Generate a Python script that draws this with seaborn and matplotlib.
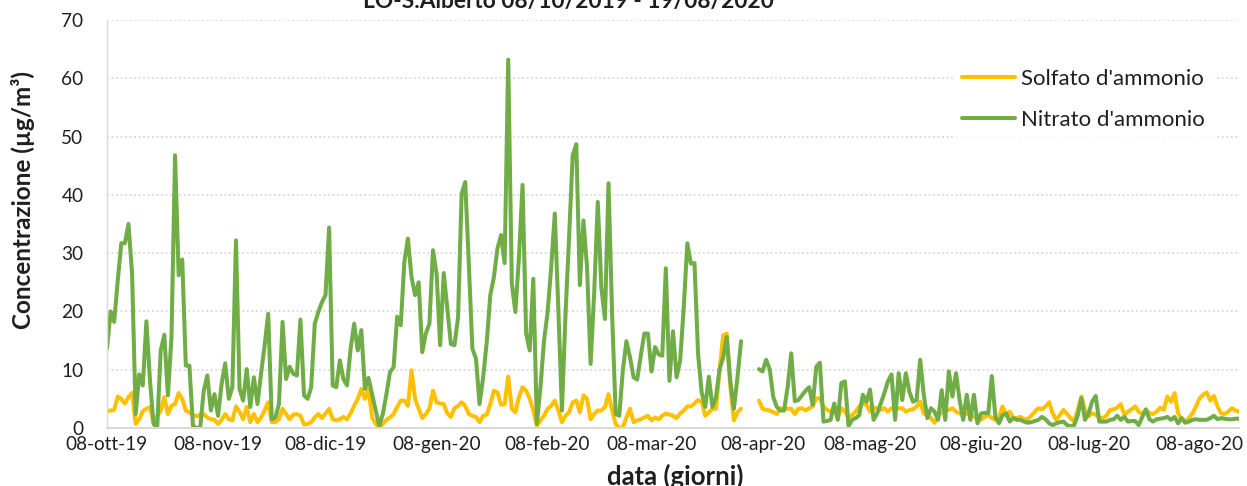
import numpy as np
import pandas as pd
import seaborn as sns
import matplotlib.pyplot as plt
from matplotlib.lines import Line2D

nan = np.nan

# daily values from 08/10/2019, ug/m3
start = '2019-10-08'

solfato = [
    2.9, 3, 3.1, 5.4, 5, 4.2, 5.3, 6, 0.7, 1.5,
    2.9, 3.3, 3.6, 1, 2, 3, 5.3, 2.4, 3.8, 4.1,
    6, 5, 3, 2.7, 2.2, 2, 2.3, 2.4, 1.8, 1.5,
    1.4, 0.7, 1.4, 2.4, 1.5, 1.3, 3.7, 2.8, 1.5, 3.6,
    1, 2.4, 1, 1.8, 3, 4.4, 1, 1, 1.5, 3.3,
    2.4, 1.5, 2.3, 2.4, 2.1, 0.6, 0.7, 1, 1.8, 2.4,
    1.7, 2.5, 3.3, 1.5, 1.3, 1.5, 1.9, 1.5, 2.5, 3.8,
    5, 6.7, 5, 6.7, 1.8, 0.7, 0.2, 0.7, 1.4, 1.8,
    2.4, 3.6, 4.7, 4.7, 3.8, 9.9, 5, 3.3, 1.7, 2.4,
    3.3, 6.4, 4.4, 4.2, 4.1, 2.5, 1.9, 3.4, 3.8, 4.4,
    3.8, 2.4, 2.1, 1.9, 1, 2.1, 2.3, 4.1, 6.4, 6.1,
    4, 4.1, 8.8, 3.3, 2.7, 5.3, 7, 6.4, 5, 3,
    0.4, 1.3, 2.1, 3.3, 3.8, 4.7, 3, 1, 2.1, 2.7,
    4.4, 4.7, 2.7, 5.6, 5, 1.5, 2.4, 3, 3, 3.6,
    5.8, 3, 0.7, 0, 0.1, 1.8, 3.3, 1, 1.3, 1.5,
    1.8, 2.1, 1.3, 1.8, 1.5, 2.1, 2.5, 2.3, 2.1, 1.7,
    2.5, 3, 3.7, 3.7, 4.2, 4.8, 4.5, 2.1, 2.7, 3.3,
    3.3, 9.9, 15.9, 16.2, 7, 1.3, 2.7, 3.3, nan, nan,
    nan, nan, 4.7, 3.3, 3.1, 3, 2.7, 2.4, 3.4, 3.3,
    3.3, 3.3, 2.4, 3.3, 3.4, 3, 3.4, 3.7, 5.1, 5.1,
    3.7, 3.1, 2.8, 3.4, 1.7, 3.4, 2.8, 1.9, 2.2, 2.8,
    3.7, 4.2, 4, 2.8, 3.4, 3.4, 3.1, 3.4, 2.8, 3.4,
    3.1, 3.4, 3.4, 2.8, 3.1, 3.2, 3.7, 4.5, 2.5, 2.2,
    1.7, 0.9, 1.9, 2.8, 3.2, 3.1, 3.4, 2.8, 2.5, 2.8,
    2.4, 2.5, 1.9, 1.7, 1.4, 1.9, 2.2, 1.7, 1.4, 1.9,
    3.7, 2.2, 2.8, 1.7, 1.7, 1.9, 1.5, 1.5, 2.1, 2.8,
    3.4, 3.2, 3.7, 4.4, 2.5, 1.4, 2.2, 3.1, 2.4, 1.7,
    1.1, 3.1, 5.4, 3.1, 2, 2.5, 2.3, 1.8, 1.7, 2.1,
    3.1, 3.2, 3.5, 4.1, 2.2, 2.8, 3.2, 3.7, 2.8, 2.4,
    3.1, 2.6, 2.4, 2.8, 3.5, 3.1, 5.4, 4.5, 6, 2.5,
    1.5, 1.1, 1.7, 2.5, 3.7, 5.1, 5.7, 6.1, 4.7, 5.5,
    3.7, 2.5, 2.4, 2.8, 3.4, 3, 2.8,
]

nitrato = [
    13.6, 20, 18.2, 25.3, 31.7, 31.7, 35, 26.5, 2.4, 9.2,
    7.3, 18.3, 8.1, 0.7, 0, 13.3, 16, 5.6, 15.6, 46.8,
    26.2, 28.9, 10.7, 10.7, 0.4, 0, 0, 6.4, 9, 3,
    5.8, 2.1, 7.6, 11.1, 5, 7, 32.2, 6.7, 4.7, 10.1,
    3.6, 8.7, 4.1, 9.3, 14.2, 19.6, 1.5, 1.8, 4.1, 18.2,
    8.4, 10.5, 9.3, 9, 18.6, 5.6, 5, 7, 17.9, 19.9,
    21.6, 22.8, 34.4, 7.3, 7, 11.6, 8.4, 7.3, 13.6, 17.9,
    13.3, 16.8, 6.7, 8.6, 5.8, 3, 0.4, 2.4, 5.8, 9.6,
    10.4, 19.1, 17.6, 28.5, 32.5, 25.9, 22.8, 25, 13, 16.2,
    17.9, 30.5, 26.5, 14.2, 26.6, 20.5, 14.4, 14.2, 19, 40.2,
    42.2, 28.2, 13.6, 11.9, 4.1, 8.7, 14.7, 22.8, 25.9, 30.8,
    33.1, 28.3, 63.2, 24.8, 19.9, 29.3, 41.7, 16.2, 13.3, 25.6,
    0.7, 7, 15, 19.9, 27.6, 36.8, 20.2, 3, 19.6, 32.8,
    46.8, 48.7, 24.5, 35.6, 27.6, 11, 23.2, 38.8, 24.1, 18.7,
    42, 19.6, 2.4, 2.1, 9.9, 14.9, 12.1, 8.7, 8.3, 12.4,
    16.2, 16.2, 9.7, 13.9, 12.6, 12.4, 27.4, 8.1, 16.6, 8.7,
    11.6, 20.7, 31.7, 28.2, 28.3, 12.7, 6.1, 3.6, 8.8, 3.6,
    5.3, 10.1, 12.1, 15.6, 8.1, 3.3, 8.7, 14.9, nan, nan,
    nan, nan, 10.1, 9.7, 11.7, 10.1, 5.3, 3.6, 3, 3,
    7, 12.8, 4.6, 4.8, 5.6, 6.4, 7, 4, 10.5, 11.2,
    1.1, 1.2, 1.4, 4.2, 1.4, 7.7, 8, 0.3, 1.4, 1.7,
    2.2, 5.7, 4.5, 6.6, 1.4, 2.5, 4.2, 6, 8, 9.2,
    1.4, 9.4, 4.8, 9.4, 6.2, 4.5, 4.8, 11.7, 5.7, 1.7,
    3.4, 2.8, 1.4, 6.5, 1.4, 9.7, 5.4, 9.4, 4.8, 1.4,
    5.7, 1.4, 5.7, 0.8, 2.5, 2.6, 2.5, 8.9, 1.9, 0.8,
    2.2, 2.5, 1.1, 1.7, 1.4, 1.4, 1.1, 0.9, 1, 1.2,
    1.4, 1.9, 1.5, 0.8, 0.5, 0.8, 1, 1.1, 0.5, 0.3,
    0.5, 2.2, 5.1, 1.4, 2.5, 4.5, 5.5, 1.1, 1.1, 1.1,
    1.4, 1.5, 2.1, 1.4, 1.9, 1.1, 1.2, 1.2, 0.5, 1.9,
    3.2, 1.5, 1.1, 1.5, 1.6, 1.7, 1.9, 1.4, 1.9, 0.8,
    1.7, 0.9, 1.1, 1.4, 1.5, 1.4, 1.4, 1.4, 1.7, 2.1,
    1.5, 1.7, 1.6, 1.5, 1.5, 1.6, 1.6,
]

series_names = ["Solfato d'ammonio", "Nitrato d'ammonio"]
tick_dates = ['2019-10-08', '2019-11-08', '2019-12-08', '2020-01-08', '2020-02-08', '2020-03-08',
              '2020-04-08', '2020-05-08', '2020-06-08', '2020-07-08', '2020-08-08']
tick_labels = ['08-ott-19', '08-nov-19', '08-dic-19', '08-gen-20', '08-feb-20', '08-mar-20',
               '08-apr-20', '08-mag-20', '08-giu-20', '08-lug-20', '08-ago-20']
y_ticks = [0, 10, 20, 30, 40, 50, 60, 70]
title = 'LO-S.Alberto 08/10/2019 - 19/08/2020'

YELLOW = '#FFC000'
GREEN = '#70AD47'
GRID = '#D9D9D9'
TXT = '#1f1f1f'

sns.set_style('white')
plt.rcParams['font.family'] = ['Lato', 'DejaVu Sans']
plt.rcParams['lines.solid_joinstyle'] = 'round'
plt.rcParams['lines.solid_capstyle'] = 'round'

days = pd.date_range(start, periods=len(solfato), freq='D')
parts = []
for name, vals in zip(series_names, [solfato, nitrato]):
    s = pd.Series(vals, dtype=float)
    seg = s.isna().cumsum()
    parts.append(pd.DataFrame({'data': days, 'conc': s, 'serie': name,
                               'tratto': name + seg.astype(str)}))
df = pd.concat(parts).dropna()

W, H = 1247, 486
fig = plt.figure(figsize=(W / 100, H / 100), dpi=100)
ax = fig.add_axes([107 / W, 1 - 428 / H, (1239 - 107) / W, 408 / H])

sns.lineplot(data=df, x='data', y='conc', hue='serie', units='tratto', estimator=None,
             hue_order=series_names, palette=[YELLOW, GREEN], linewidth=2.9,
             legend=False, sort=False, ax=ax)

ax.set_xlim(pd.Timestamp(start), pd.Timestamp('2020-08-19'))
ax.set_ylim(0, 70)
ax.set_yticks(y_ticks)
ax.set_xticks(pd.to_datetime(tick_dates))
ax.set_xticklabels(tick_labels)
ax.yaxis.grid(True, color=GRID, linestyle=(0, (1, 1.5)), linewidth=1.3)
ax.xaxis.grid(False)
ax.set_axisbelow(True)

for side in ['top', 'right']:
    ax.spines[side].set_visible(False)
ax.spines['left'].set_color(GRID)
ax.spines['left'].set_linewidth(1.0)
ax.spines['bottom'].set_color(GRID)
ax.spines['bottom'].set_linewidth(1.5)

ax.tick_params(axis='y', length=0, pad=17, labelsize=13.7, labelcolor=TXT)
ax.tick_params(axis='x', direction='in', length=4, width=1.2, color=GRID, pad=6,
               labelsize=13.7, labelcolor=TXT)

ax.set_xlabel('data (giorni)', fontsize=18.5, fontweight='bold', color=TXT)
ax.xaxis.label.set_va('baseline')
ax.xaxis.set_label_coords((675 - 107) / 1132, (428 - 485) / 408)
ax.set_ylabel('Concentrazione (µg/m³)', fontsize=17.5, fontweight='bold', color=TXT)
ax.yaxis.label.set_va('center')
ax.yaxis.set_label_coords((23 - 107) / 1132, (428 - 200) / 408)

fig.text(568 / W, 1 - 8 / H, title, ha='center', va='baseline', fontsize=16.4,
         fontweight='bold', color=TXT)

handles = [Line2D([], [], color=c, lw=2.9) for c in [YELLOW, GREEN]]
fs = 16
leg = ax.legend(handles, series_names, loc='center left', frameon=True,
                bbox_to_anchor=((962 - 0.4 * 22) / W, 1 - 99.5 / H),
                bbox_transform=fig.transFigure, borderaxespad=0, borderpad=0.4,
                fontsize=fs, handlelength=2.4, handletextpad=0.25, labelspacing=0.95,
                fancybox=False)
leg.get_frame().set_facecolor('white')
leg.get_frame().set_edgecolor('white')
for t in leg.get_texts():
    t.set_color(TXT)

fig.savefig('out.png', dpi=100)
